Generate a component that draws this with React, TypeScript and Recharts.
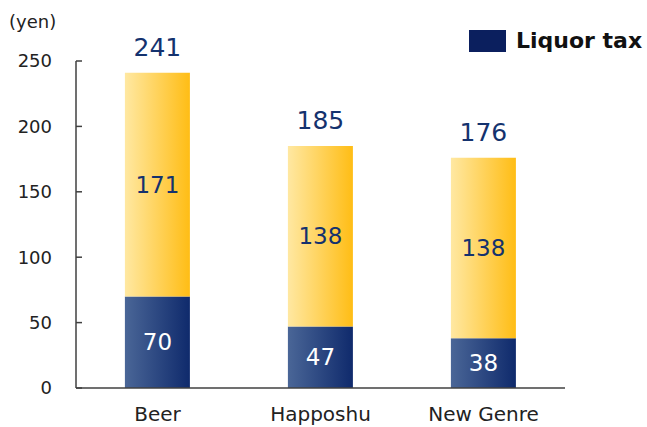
import React from 'react';
import { BarChart, Bar, XAxis, YAxis, LabelList, Legend } from 'recharts';

const categories = ['Beer', 'Happoshu', 'New Genre'];
const liquorTax = [70, 47, 38];
const otherPrice = [171, 138, 138];
const totals = [241, 185, 176];
const yTicks = [0, 50, 100, 150, 200, 250];

const data = categories.map((name, i) => ({
  name,
  tax: liquorTax[i],
  other: otherPrice[i],
  total: totals[i],
}));

const FONT = '"DejaVu Sans", Verdana, sans-serif';
const NAVY_TEXT = '#14326e';

const LegendContent = () => (
  <div style={{ display: 'flex', alignItems: 'center', fontFamily: FONT }}>
    <div style={{ width: 37, height: 22, background: '#0b1f5e', marginRight: 10 }} />
    <span style={{ fontWeight: 'bold', fontSize: 22, color: '#111' }}>Liquor tax</span>
  </div>
);

export default function App() {
  return (
    <div style={{ position: 'absolute', left: 0, top: 0 }}>
      <BarChart
        width={647}
        height={427}
        data={data}
        margin={{ top: 61, right: 82, bottom: 0, left: 16 }}
        barCategoryGap="30%"
      >
        <defs>
          <linearGradient id="navyGrad" x1="0" y1="0" x2="1" y2="0">
            <stop offset="0%" stopColor="#4a6697" />
            <stop offset="100%" stopColor="#0f2a6c" />
          </linearGradient>
          <linearGradient id="yellowGrad" x1="0" y1="0" x2="1" y2="0">
            <stop offset="0%" stopColor="#ffe8a2" />
            <stop offset="100%" stopColor="#ffbd15" />
          </linearGradient>
        </defs>
        <XAxis
          dataKey="name"
          height={39}
          tickLine={false}
          tickSize={6}
          tickMargin={13}
          axisLine={{ stroke: '#404040', strokeWidth: 1.5 }}
          tick={{ fontFamily: FONT, fontSize: 20, fill: '#222' }}
        />
        <YAxis
          width={60}
          domain={[0, 250]}
          ticks={yTicks}
          interval={0}
          tickSize={-6}
          tickMargin={30}
          axisLine={{ stroke: '#404040', strokeWidth: 1.5 }}
          tickLine={{ stroke: '#404040', strokeWidth: 1.5 }}
          tick={{ fontFamily: FONT, fontSize: 18, fill: '#222' }}
          label={{
            content: (props: any) => {
              const vb = props.viewBox || { x: 16, y: 61 };
              return (
                <text x={vb.x - 7} y={vb.y - 33} fontFamily={FONT} fontSize={18} fill="#222">
                  (yen)
                </text>
              );
            },
          }}
        />
        <Legend
          layout="vertical"
          align="center"
          verticalAlign="middle"
          wrapperStyle={{ position: 'absolute', top: 28, left: 469, width: 'auto' }}
          content={<LegendContent />}
        />
        <Bar dataKey="tax" name="Liquor tax" stackId="a" fill="url(#navyGrad)" isAnimationActive={false}>
          <LabelList dataKey="tax" position="center" fill="#ffffff" fontFamily={FONT} fontSize={23} />
        </Bar>
        <Bar dataKey="other" name="Other" stackId="a" fill="url(#yellowGrad)" isAnimationActive={false} legendType="none">
          <LabelList dataKey="other" position="center" fill={NAVY_TEXT} fontFamily={FONT} fontSize={23} />
          <LabelList dataKey="total" position="top" offset={17} fill={NAVY_TEXT} fontFamily={FONT} fontSize={25} />
        </Bar>
      </BarChart>
    </div>
  );
}
